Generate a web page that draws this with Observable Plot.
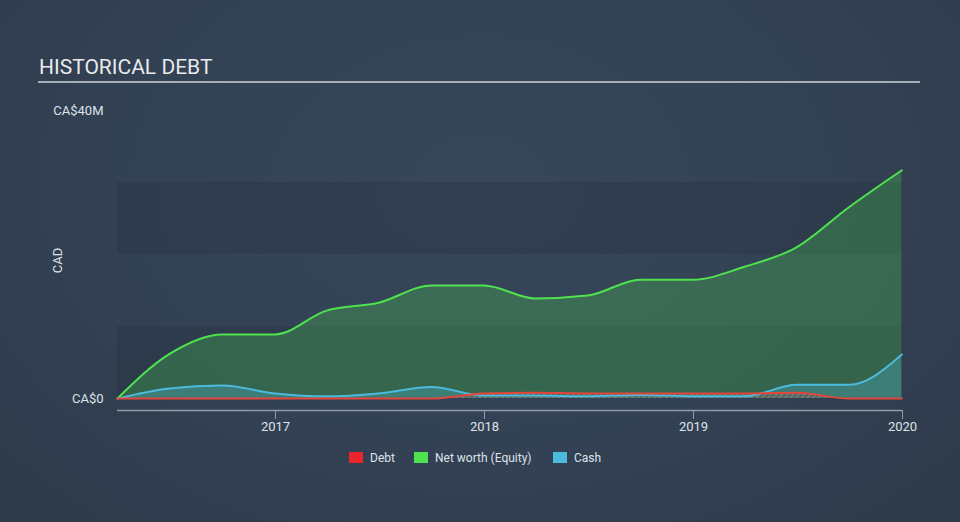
<!DOCTYPE html>
<html>
<head>
<meta charset="utf-8">
<script src="https://cdn.jsdelivr.net/npm/d3@7"></script>
<script src="https://cdn.jsdelivr.net/npm/@observablehq/plot@0.6"></script>
<style>
  body { margin: 0; background: #334154; }
  #wrap { position: relative; width: 960px; height: 522px; overflow: hidden;
          background: radial-gradient(ellipse at 50% 35%, #37465a 0%, #334154 55%, #2e3a4a 100%);
          font-family: Roboto, "Noto Sans", sans-serif; }
  #title { position: absolute; left: 39px; top: 55px; font-size: 21px; color: #e8eaec; letter-spacing: 0px; }
  #rule { position: absolute; left: 38px; top: 81px; width: 882px; height: 2px; background: #a7aeb6; }
  #chart { position: absolute; left: 0; top: 90px; }
  #legend { position: absolute; left: 0; top: 450px; width: 960px; height: 16px; font-size: 12px; color: #dfe3e8; }
  .item { position: absolute; top: 0; height: 16px; line-height: 16px; white-space: nowrap; }
  .sw { display: inline-block; width: 14px; height: 11px; vertical-align: -1px; margin-right: 7px; }
</style>
</head>
<body>
<div id="wrap">
  <div id="title">HISTORICAL DEBT</div>
  <div id="rule"></div>
  <div id="chart"></div>
  <div id="legend"></div>
</div>
<script>
// ---- data (values in CA$) ----
const dates = ["2016-03-31","2016-06-30","2016-09-30","2016-12-31","2017-03-31","2017-06-30","2017-09-30","2017-12-31",
               "2018-03-31","2018-06-30","2018-09-30","2018-12-31","2019-03-31","2019-06-30","2019-09-30","2019-12-31"];
const netWorthM = [0, 6.2, 8.9, 8.9, 12.2, 13.3, 15.7, 15.7, 13.9, 14.3, 16.5, 16.5, 18.3, 21.0, 26.6, 31.7];
const cashM     = [0, 1.4, 1.8, 0.7, 0.3, 0.7, 1.6, 0.4, 0.4, 0.3, 0.5, 0.3, 0.3, 1.9, 1.9, 6.1];
const debtM     = [0, 0, 0, 0, 0, 0, 0, 0.7, 0.8, 0.7, 0.7, 0.7, 0.7, 0.8, 0, 0];
const xTicks = ["2017-01-01","2018-01-01","2019-01-01","2020-01-01"];
const yTicks = [0, 40e6];
const yTickLabels = ["CA$0", "CA$40M"];
const bands = [[0, 10e6], [20e6, 30e6]];
const seriesNames = ["Debt", "Net worth (Equity)", "Cash"];
const seriesColors = ["#e8262b", "#4fe24f", "#4bbadc"];

const rows = dates.map((d, i) => ({
  date: new Date(d), net: netWorthM[i] * 1e6, cash: cashM[i] * 1e6, debt: debtM[i] * 1e6
}));

const defs = () => {
  const ns = "http://www.w3.org/2000/svg";
  const g = document.createElementNS(ns, "defs");
  g.innerHTML = `<pattern id="hatch" patternUnits="userSpaceOnUse" width="4" height="4" patternTransform="rotate(45)">
      <rect width="4" height="4" fill="#6b5a55" fill-opacity="0.55"></rect>
      <line x1="0" y1="0" x2="0" y2="4" stroke="#b0a8a0" stroke-width="1.2" stroke-opacity="0.7"></line>
    </pattern>`;
  return g;
};

const chart = Plot.plot({
  width: 960,
  height: 350,
  marginLeft: 117,
  marginRight: 58,
  marginTop: 20,
  marginBottom: 30,
  style: { background: "transparent", color: "#dfe3e8", fontFamily: "Roboto, sans-serif", fontSize: "13px", overflow: "visible" },
  x: { type: "utc", domain: [new Date("2016-03-31"), new Date("2020-01-01")] },
  y: { domain: [0, 40e6], range: [308, 20] },
  marks: [
    defs,
    Plot.rect(bands, { y1: d => d[0], y2: d => d[1], fill: "#253040", fillOpacity: 0.35 }),
    Plot.areaY(rows, { x: "date", y: "net", fill: seriesColors[1], fillOpacity: 0.25, curve: "monotone-x" }),
    Plot.areaY(rows, { x: "date", y: "cash", fill: seriesColors[2], fillOpacity: 0.3, curve: "monotone-x" }),
    Plot.areaY(rows, { x: "date", y: "debt", fill: "url(#hatch)", curve: "monotone-x" }),
    Plot.lineY(rows, { x: "date", y: "net", stroke: seriesColors[1], strokeWidth: 2, curve: "monotone-x" }),
    Plot.lineY(rows, { x: "date", y: "cash", stroke: seriesColors[2], strokeWidth: 2, curve: "monotone-x" }),
    Plot.lineY(rows, { x: "date", y: "debt", stroke: "#e4473a", strokeWidth: 2, curve: "monotone-x" }),
    Plot.ruleY([0], { dy: 12, stroke: "#8e9baa", strokeWidth: 1.5 }),
    Plot.axisX({ ticks: xTicks.map(d => new Date(d)), tickFormat: d3.utcFormat("%Y"), tickSize: 9, tickPadding: 2,
                 stroke: "#8e9baa", fill: "#dfe3e8", label: null }),
    Plot.axisY({ ticks: yTicks, tickFormat: d => yTickLabels[yTicks.indexOf(d)], tickSize: 0, tickPadding: 14, label: null }),
    Plot.text(["CAD"], { frameAnchor: "left", textAnchor: "middle", dx: -60, rotate: -90, fill: "#dfe3e8", fontSize: 13 })
  ]
});
document.getElementById("chart").appendChild(chart);

// legend
const legend = document.getElementById("legend");
const lefts = [349, 414, 553];
seriesNames.forEach((name, i) => {
  const it = document.createElement("div");
  it.className = "item";
  it.style.left = lefts[i] + "px";
  it.innerHTML = `<span class="sw" style="background:${seriesColors[i]}"></span>${name}`;
  legend.appendChild(it);
});
</script>
</body>
</html>
